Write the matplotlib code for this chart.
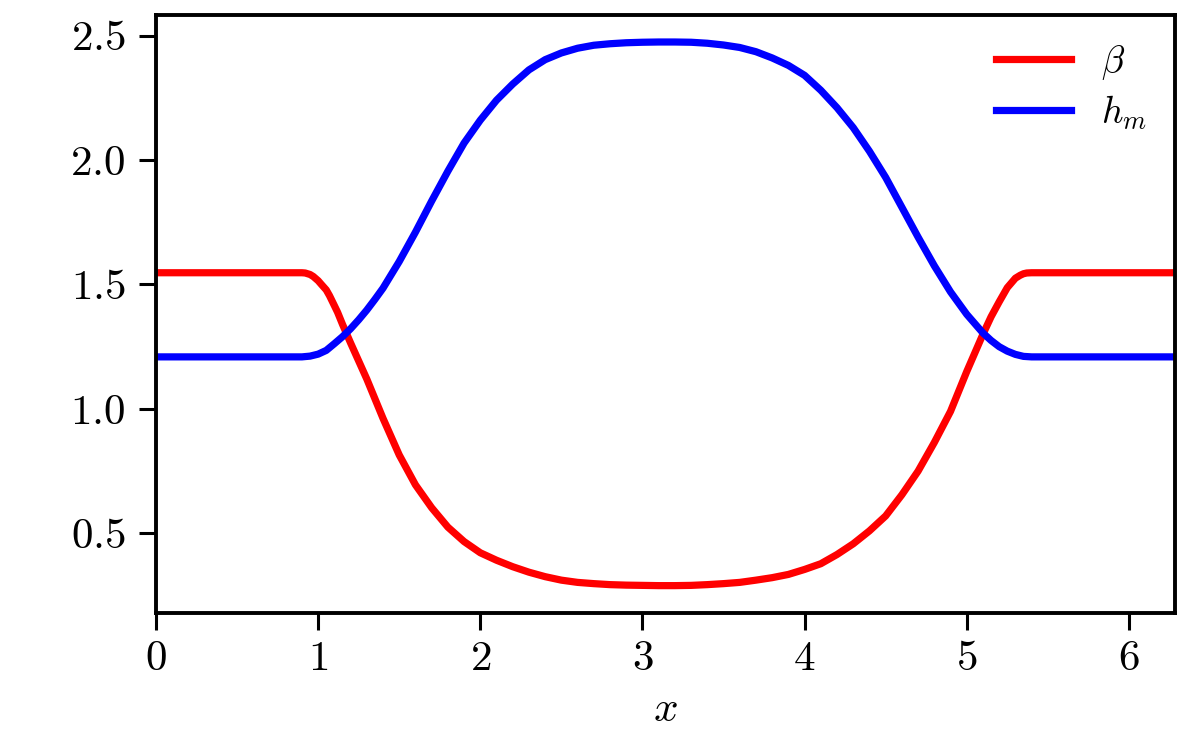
import numpy as np
import matplotlib
matplotlib.use("Agg")
import matplotlib.pyplot as plt

plt.rcParams['font.family'] = 'serif'
plt.rcParams['font.serif'] = ['cmr10']
plt.rcParams['mathtext.fontset'] = 'cm'
plt.rcParams['axes.formatter.use_mathtext'] = True
plt.rcParams['font.size'] = 15.5

# values
x_beta = [0.0, 0.90, 0.92, 0.95, 0.97, 1.00, 1.02, 1.05, 1.07, 1.10, 1.12, 1.15, 1.20,
          1.30, 1.40, 1.50, 1.60, 1.70, 1.80, 1.90, 2.00, 2.10, 2.20, 2.30, 2.40, 2.50,
          2.60, 2.70, 2.80, 2.90, 3.00, 3.10, 3.20, 3.30, 3.40, 3.50, 3.60, 3.70, 3.80,
          3.90, 4.00, 4.10, 4.20, 4.30, 4.40, 4.50, 4.60, 4.70, 4.80, 4.90, 5.00, 5.10,
          5.15, 5.20, 5.25, 5.30, 5.33, 5.35, 5.37, 5.40, 6.2832]
beta = [1.547, 1.547, 1.546, 1.540, 1.532, 1.515, 1.500, 1.478, 1.455, 1.415, 1.388, 1.340, 1.265,
        1.120, 0.962, 0.815, 0.695, 0.603, 0.525, 0.467, 0.422, 0.392, 0.366, 0.344, 0.326, 0.312,
        0.303, 0.298, 0.294, 0.292, 0.291, 0.290, 0.290, 0.291, 0.294, 0.298, 0.303, 0.312, 0.322,
        0.335, 0.355, 0.378, 0.415, 0.458, 0.510, 0.570, 0.655, 0.750, 0.865, 0.990, 1.150, 1.300,
        1.370, 1.430, 1.487, 1.525, 1.537, 1.543, 1.546, 1.547, 1.547]

x_hm = [0.0, 0.90, 0.95, 1.00, 1.05, 1.10, 1.15, 1.20, 1.25, 1.30, 1.35, 1.40, 1.50,
        1.60, 1.70, 1.80, 1.90, 2.00, 2.10, 2.20, 2.30, 2.40, 2.50, 2.60, 2.70, 2.80,
        2.90, 3.00, 3.10, 3.20, 3.30, 3.40, 3.50, 3.60, 3.70, 3.80, 3.90, 4.00, 4.10,
        4.20, 4.30, 4.40, 4.50, 4.60, 4.70, 4.80, 4.90, 5.00, 5.10, 5.15, 5.20, 5.25,
        5.30, 5.35, 5.40, 6.2832]
h_m = [1.209, 1.209, 1.212, 1.220, 1.235, 1.262, 1.290, 1.322, 1.358, 1.397, 1.440, 1.485, 1.592,
       1.710, 1.835, 1.955, 2.068, 2.160, 2.240, 2.305, 2.362, 2.403, 2.430, 2.449, 2.461, 2.467,
       2.471, 2.473, 2.474, 2.474, 2.473, 2.469, 2.462, 2.452, 2.435, 2.410, 2.380, 2.340, 2.280,
       2.210, 2.130, 2.035, 1.930, 1.810, 1.690, 1.575, 1.470, 1.380, 1.305, 1.275, 1.250, 1.232,
       1.219, 1.211, 1.209, 1.209]

fig, ax = plt.subplots(figsize=(6, 3.705), dpi=200)
fig.subplots_adjust(left=0.13, right=0.979, top=0.98, bottom=0.173)

ax.plot(x_beta, beta, color='red', lw=2.6, solid_joinstyle='round', label=r'$\beta$')
ax.plot(x_hm, h_m, color='blue', lw=2.6, solid_joinstyle='round', label=r'$h_m$')

ax.set_xlim(0, 2 * np.pi)
ax.set_xlabel(r'$x$', labelpad=5)
ax.set_yticks([0.5, 1.0, 1.5, 2.0, 2.5])
for s in ax.spines.values():
    s.set_linewidth(1.4)
ax.tick_params(width=1.1, length=6, pad=5)
ax.tick_params(axis='x', pad=4)
ax.legend(loc='upper right', frameon=False, fontsize=13.5, handlelength=2.0,
          labelspacing=0.3, borderaxespad=0.35)

fig.savefig('out.png', dpi=200)
